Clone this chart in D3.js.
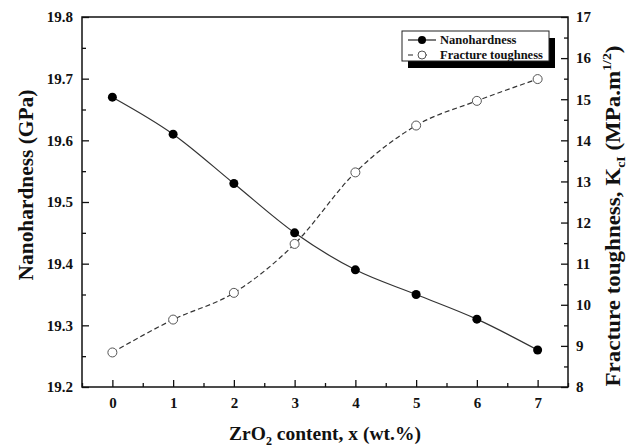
<!DOCTYPE html>
<html>
<head>
<meta charset="utf-8">
<script src="https://cdn.jsdelivr.net/npm/d3@7"></script>
<style>
  html, body { margin: 0; padding: 0; background: #fff; }
  svg { display: block; }
  text { font-family: "Liberation Serif", "Times New Roman", serif; font-weight: bold; fill: #111; }
</style>
</head>
<body>
<svg id="chart" width="632" height="447"></svg>
<script>
// ---- data ----
const zrO2 = [0, 1, 2, 3, 4, 5, 6, 7];
const nanohardness = [19.67, 19.61, 19.53, 19.45, 19.39, 19.35, 19.31, 19.26];
const fractureToughness = [8.84, 9.64, 10.29, 11.48, 13.22, 14.36, 14.96, 15.49];
const xTicks = [0, 1, 2, 3, 4, 5, 6, 7];
const xMinorTicks = [-0.5, 0.5, 1.5, 2.5, 3.5, 4.5, 5.5, 6.5, 7.5];
const leftTicks = [19.2, 19.3, 19.4, 19.5, 19.6, 19.7, 19.8];
const leftMinorTicks = [19.25, 19.35, 19.45, 19.55, 19.65, 19.75];
const rightTicks = [8, 9, 10, 11, 12, 13, 14, 15, 16, 17];
const rightMinorTicks = [8.5, 9.5, 10.5, 11.5, 12.5, 13.5, 14.5, 15.5, 16.5];
const legendLabels = ["Nanohardness", "Fracture toughness"];

// ---- layout ----
const L = 82, R = 568, T = 17, B = 387;
const svg = d3.select("#chart");

const x = d3.scaleLinear().domain([-0.5, 7.5]).range([L, R]);
const yL = d3.scaleLinear().domain([19.2, 19.8]).range([B, T]);
const yR = d3.scaleLinear().domain([8, 17]).range([B, T]);

// frame
svg.append("rect").attr("x", L).attr("y", T).attr("width", R - L).attr("height", B - T)
  .attr("fill", "none").attr("stroke", "#111").attr("stroke-width", 1.5);

function styleAxis(g, fs) {
  g.select(".domain").remove();
  g.selectAll("line").attr("stroke", "#111").attr("stroke-width", 1.3);
  g.selectAll("text").attr("font-size", fs).attr("fill", "#111")
    .attr("font-family", '"Liberation Serif", "Times New Roman", serif').attr("font-weight", "bold");
}

// bottom axis
svg.append("g").attr("transform", `translate(0,${B})`)
  .call(d3.axisBottom(x).tickValues(xTicks).tickSize(-7).tickPadding(10).tickFormat(d3.format("d")))
  .call(g => styleAxis(g, 15));
svg.append("g").attr("transform", `translate(0,${B})`)
  .call(d3.axisBottom(x).tickValues(xMinorTicks).tickSize(-4).tickFormat(""))
  .call(g => styleAxis(g, 15));

// left axis
svg.append("g").attr("transform", `translate(${L},0)`)
  .call(d3.axisLeft(yL).tickValues(leftTicks).tickSize(-7).tickPadding(9).tickFormat(d3.format(".1f")))
  .call(g => styleAxis(g, 15));
svg.append("g").attr("transform", `translate(${L},0)`)
  .call(d3.axisLeft(yL).tickValues(leftMinorTicks).tickSize(-4).tickFormat(""))
  .call(g => styleAxis(g, 15));

// right axis
svg.append("g").attr("transform", `translate(${R},0)`)
  .call(d3.axisRight(yR).tickValues(rightTicks).tickSize(-7).tickPadding(8).tickFormat(d3.format("d")))
  .call(g => styleAxis(g, 15));
svg.append("g").attr("transform", `translate(${R},0)`)
  .call(d3.axisRight(yR).tickValues(rightMinorTicks).tickSize(-4).tickFormat(""))
  .call(g => styleAxis(g, 15));

// lines
const nanoData = zrO2.map((d, i) => ({ x: d, y: nanohardness[i] }));
const fracData = zrO2.map((d, i) => ({ x: d, y: fractureToughness[i] }));

svg.append("path").datum(fracData)
  .attr("d", d3.line().x(d => x(d.x)).y(d => yR(d.y)).curve(d3.curveMonotoneX))
  .attr("fill", "none").attr("stroke", "#333").attr("stroke-width", 1.2).attr("stroke-dasharray", "5,3");
svg.append("path").datum(nanoData)
  .attr("d", d3.line().x(d => x(d.x)).y(d => yL(d.y)).curve(d3.curveMonotoneX))
  .attr("fill", "none").attr("stroke", "#333").attr("stroke-width", 1.2);

svg.append("g").selectAll("circle").data(fracData).join("circle")
  .attr("cx", d => x(d.x)).attr("cy", d => yR(d.y)).attr("r", 4.5)
  .attr("fill", "#fff").attr("stroke", "#555").attr("stroke-width", 1);
svg.append("g").selectAll("circle").data(nanoData).join("circle")
  .attr("cx", d => x(d.x)).attr("cy", d => yL(d.y)).attr("r", 4.5)
  .attr("fill", "#000");

// legend
const lg = svg.append("g");
const lx = 402, ly = 31, lw = 147, lh = 30;
lg.append("rect").attr("x", lx + 6).attr("y", ly + 7).attr("width", lw).attr("height", lh).attr("fill", "#000");
lg.append("rect").attr("x", lx).attr("y", ly).attr("width", lw).attr("height", lh)
  .attr("fill", "#fff").attr("stroke", "#222").attr("stroke-width", 1);
legendLabels.forEach((lab, i) => {
  const yy = ly + 9 + i * 15;
  lg.append("line").attr("x1", lx + 6).attr("x2", lx + 34).attr("y1", yy).attr("y2", yy)
    .attr("stroke", "#222").attr("stroke-width", 1.2)
    .attr("stroke-dasharray", i === 1 ? "5,9" : null);
  lg.append("circle").attr("cx", lx + 20).attr("cy", yy).attr("r", 4)
    .attr("fill", i === 0 ? "#000" : "#fff").attr("stroke", i === 0 ? "none" : "#555");
  lg.append("text").attr("x", lx + 38).attr("y", yy + 4).attr("font-size", 12.5).text(lab);
});

// x title
const xt = svg.append("text").attr("x", (L + R) / 2).attr("y", 440)
  .attr("text-anchor", "middle").attr("font-size", 19.5);
xt.append("tspan").text("ZrO");
xt.append("tspan").attr("font-size", 12).attr("dy", 5).text("2");
xt.append("tspan").attr("dy", -5).text(" content, x (wt.%)");

// left title
svg.append("text").attr("transform", "translate(33,185) rotate(-90) scale(1.07,1)")
  .attr("text-anchor", "middle").attr("font-size", 20).text("Nanohardness (GPa)");

// right title
const rt = svg.append("text").attr("transform", "translate(620,216) rotate(-90) scale(1.15,1)")
  .attr("text-anchor", "middle").attr("font-size", 20);
rt.append("tspan").text("Fracture toughness, K");
rt.append("tspan").attr("font-size", 12).attr("dy", 5).text("cI");
rt.append("tspan").attr("dy", -5).text(" (MPa.m");
rt.append("tspan").attr("font-size", 12).attr("dy", -9).text("1/2");
rt.append("tspan").attr("dy", 9).text(")");
</script>
</body>
</html>
